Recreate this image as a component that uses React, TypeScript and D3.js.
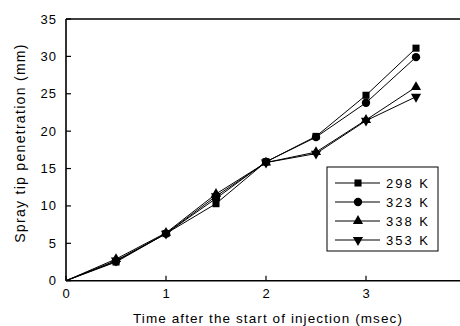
import React, { useRef, useEffect } from 'react';
import * as d3 from 'd3';

// time after start of injection (msec)
const times = [0, 0.5, 1, 1.5, 2, 2.5, 3, 3.5];
const seriesNames = ['298 K', '323 K', '338 K', '353 K'];
const pen298 = [0, 2.5, 6.3, 10.3, 15.9, 19.3, 24.8, 31.1];
const pen323 = [0, 2.6, 6.3, 11.0, 15.9, 19.2, 23.8, 29.9];
const pen338 = [0, 2.9, 6.4, 11.6, 15.8, 17.2, 21.5, 25.9];
const pen353 = [0, 2.7, 6.3, 11.3, 15.8, 17.0, 21.4, 24.6];
const xTicks = [0, 1, 2, 3];
const yTicks = [0, 5, 10, 15, 20, 25, 30, 35];

const W = 460;
const H = 326;

const App = () => {
  const svgRef = useRef<SVGSVGElement>(null);

  useEffect(() => {
    const svg = d3.select(svgRef.current);
    svg.selectAll('*').remove();

    const font = 'Liberation Sans, Arial, sans-serif';
    const x = d3.scaleLinear().domain([0, 4]).range([66, 466]);
    const y = d3.scaleLinear().domain([0, 35]).range([280.7, 19]);

    const g = svg.append('g');

    // frame: left, bottom, top
    g.append('line').attr('x1', x(0)).attr('x2', x(0)).attr('y1', y(0)).attr('y2', y(35))
      .attr('stroke', '#000').attr('stroke-width', 1.6);
    g.append('line').attr('x1', x(0)).attr('x2', W).attr('y1', y(0)).attr('y2', y(0))
      .attr('stroke', '#000').attr('stroke-width', 1.6);
    g.append('line').attr('x1', x(0)).attr('x2', W).attr('y1', y(35)).attr('y2', y(35))
      .attr('stroke', '#000').attr('stroke-width', 1.6);

    // y ticks (inward)
    yTicks.forEach(t => {
      g.append('line').attr('x1', x(0)).attr('x2', x(0) + 5).attr('y1', y(t)).attr('y2', y(t))
        .attr('stroke', '#000').attr('stroke-width', 1.2);
      g.append('text').attr('x', 57).attr('y', y(t) + 4.5).attr('text-anchor', 'end')
        .attr('font-family', font).attr('font-size', 13).attr('letter-spacing', 1).text(t);
    });

    // x ticks (inward)
    xTicks.forEach(t => {
      g.append('line').attr('x1', x(t)).attr('x2', x(t)).attr('y1', y(0)).attr('y2', y(0) - 5)
        .attr('stroke', '#000').attr('stroke-width', 1.2);
      g.append('text').attr('x', x(t)).attr('y', 298).attr('text-anchor', 'middle')
        .attr('font-family', font).attr('font-size', 13).text(t);
    });

    // axis titles
    g.append('text').attr('x', 268).attr('y', 323).attr('text-anchor', 'middle')
      .attr('font-family', font).attr('font-size', 13.5).attr('letter-spacing', 1.1)
      .text('Time after the start of injection (msec)');
    g.append('text').attr('transform', `translate(25, ${143}) rotate(-90)`)
      .attr('text-anchor', 'middle')
      .attr('font-family', font).attr('font-size', 14).attr('letter-spacing', 1.3)
      .text('Spray tip penetration (mm)');

    const allSeries = [pen298, pen323, pen338, pen353];
    const symbols = [d3.symbolSquare, d3.symbolCircle, d3.symbolTriangle, d3.symbolTriangle];
    const sizes = [50, 55, 45, 45];
    const rot = [0, 0, 0, 180];

    const line = d3.line<number>().x((d, i) => x(times[i])).y(d => y(d));

    allSeries.forEach((vals) => {
      g.append('path').datum(vals).attr('d', line)
        .attr('fill', 'none').attr('stroke', '#000').attr('stroke-width', 1);
    });
    allSeries.forEach((vals, s) => {
      const sym = d3.symbol().type(symbols[s]).size(sizes[s]);
      g.selectAll(`.m${s}`).data(vals.slice(1)).enter().append('path')
        .attr('class', `m${s}`)
        .attr('d', sym)
        .attr('transform', (d, i) => `translate(${x(times[i + 1])},${y(d)}) rotate(${rot[s]})`)
        .attr('fill', '#000');
    });

    // legend
    const lg = g.append('g');
    lg.append('rect').attr('x', 327).attr('y', 167).attr('width', 111).attr('height', 84)
      .attr('fill', '#fff').attr('stroke', '#000').attr('stroke-width', 1);
    seriesNames.forEach((name, s) => {
      const ly = 183 + s * 19;
      lg.append('line').attr('x1', 335).attr('x2', 380).attr('y1', ly).attr('y2', ly)
        .attr('stroke', '#000').attr('stroke-width', 1.2);
      lg.append('path').attr('d', d3.symbol().type(symbols[s]).size(sizes[s]))
        .attr('transform', `translate(358,${ly}) rotate(${rot[s]})`).attr('fill', '#000');
      lg.append('text').attr('x', 386).attr('y', ly + 4.5)
        .attr('font-family', font).attr('font-size', 13).attr('letter-spacing', 2)
        .text(name);
    });
  }, []);

  return (
    <svg ref={svgRef} width={W} height={H}
      style={{ position: 'absolute', left: 0, top: 0, background: '#fff' }} />
  );
};

export default App;
